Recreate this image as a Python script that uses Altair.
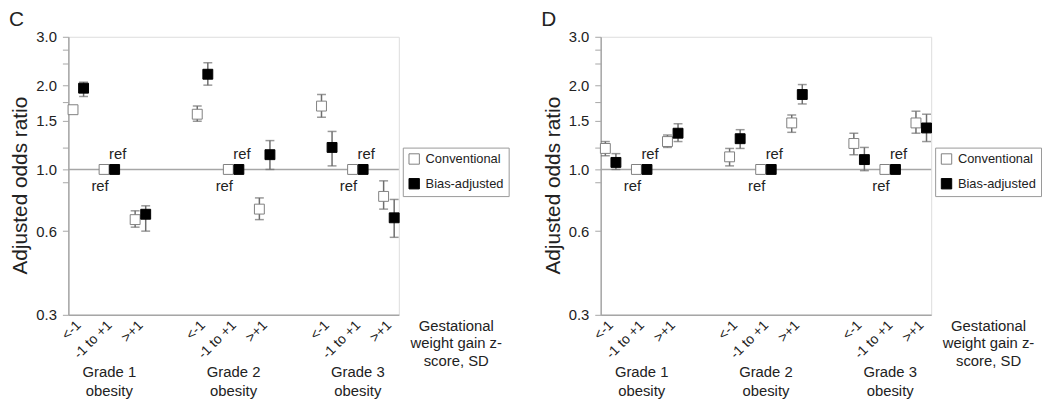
import altair as alt
import pandas as pd

# ---- data ----
positions = [1, 2, 3, 5, 6, 7, 9, 10, 11]
cat_labels = ["<-1", "-1 to +1", ">+1"] * 3
group_pos = [2, 6, 10]
group_labels = ["Grade 1\nobesity", "Grade 2\nobesity", "Grade 3\nobesity"]
series_names = ["Conventional", "Bias-adjusted"]

# Panel C
c_conv = [1.64, 1.0, 0.66, 1.58, 1.0, 0.72, 1.69, 1.0, 0.80]
c_conv_lo = [1.60, None, 0.62, 1.49, None, 0.66, 1.54, None, 0.72]
c_conv_hi = [1.69, None, 0.71, 1.69, None, 0.79, 1.86, None, 0.91]
c_bias = [1.96, 1.0, 0.69, 2.20, 1.0, 1.13, 1.20, 1.0, 0.67]
c_bias_lo = [1.83, None, 0.60, 2.01, None, 1.00, 1.03, None, 0.57]
c_bias_hi = [2.06, None, 0.74, 2.42, None, 1.27, 1.37, None, 0.78]

# Panel D
d_conv = [1.19, 1.0, 1.26, 1.11, 1.0, 1.47, 1.24, 1.0, 1.47]
d_conv_lo = [1.12, None, 1.20, 1.03, None, 1.36, 1.13, None, 1.35]
d_conv_hi = [1.26, None, 1.33, 1.19, None, 1.57, 1.35, None, 1.62]
d_bias = [1.06, 1.0, 1.35, 1.29, 1.0, 1.86, 1.085, 1.0, 1.41]
d_bias_lo = [1.00, None, 1.26, 1.19, None, 1.72, 0.99, None, 1.26]
d_bias_hi = [1.14, None, 1.46, 1.39, None, 2.02, 1.20, None, 1.58]

ref_positions = [2, 6, 10]

y_ticks = [0.3, 0.6, 0.9, 1.0, 1.2, 1.5, 1.75, 2.0, 2.4, 2.7, 3.0]
y_labeled = [0.3, 0.6, 1.0, 1.5, 2.0, 3.0]

FONT = "Liberation Sans"
TXT = "#222222"
GRAY = "#a6a6a6"
BAR = "#6e6e6e"
OFF = 0.17

W, H = 334, 281
XDOM = [0.68, 11.32]


def panel(letter, conv, conv_lo, conv_hi, bias, bias_lo, bias_hi):
    rows = []
    for s, vals, los, his, off in [
        (series_names[0], conv, conv_lo, conv_hi, -OFF),
        (series_names[1], bias, bias_lo, bias_hi, OFF),
    ]:
        for p, v, lo, hi in zip(positions, vals, los, his):
            rows.append({"x": p + off, "series": s, "v": v, "lo": lo, "hi": hi})
    df = pd.DataFrame(rows)
    df_err = df.dropna(subset=["lo"])

    xs = alt.Scale(domain=XDOM, nice=False, zero=False)
    ys = alt.Scale(type="log", domain=[0.3, 3.0], nice=False)

    label_arr = [""] * 12
    for p, l in zip(positions, cat_labels):
        label_arr[p] = l
    arr_expr = "[" + ",".join("'" + l + "'" for l in label_arr) + "]"
    lab_expr = "indexof([" + ",".join(str(v) for v in y_labeled) + "], datum.value) >= 0 ? format(datum.value, '.1f') : ''"

    xaxis = alt.Axis(
        values=positions, labelExpr=arr_expr + "[datum.value]", title=None,
        ticks=False, grid=False, labelAngle=315, labelAlign="right",
        labelBaseline="middle", labelPadding=8, labelFontSize=14,
        labelOverlap=False, labelFlush=False, labelBound=False,
        labelFont=FONT, labelColor=TXT, domainColor=GRAY, domainWidth=1.5,
    )
    yaxis = alt.Axis(
        values=y_ticks, labelExpr=lab_expr, title="Adjusted odds ratio",
        grid=False, tickSize=6, tickColor=GRAY, domainColor=GRAY, domainWidth=1.5,
        labelFontSize=15, labelFont=FONT, labelColor=TXT, labelPadding=6,
        labelOverlap=False, labelFlush=False,
        titleFontSize=21, titleFont=FONT, titleColor=TXT, titleFontWeight="normal",
        titlePadding=5, titleY=150,
    )

    base = alt.Chart(df)

    refline = alt.Chart(pd.DataFrame({"v": [1.0]})).mark_rule(
        color=GRAY, strokeWidth=1.5
    ).encode(y=alt.Y("v:Q", scale=ys, axis=yaxis))

    err = alt.Chart(df_err).mark_rule(color=BAR, strokeWidth=1.5).encode(
        x=alt.X("x:Q", scale=xs, axis=xaxis), y=alt.Y("lo:Q", scale=ys), y2="hi:Q"
    )
    cap_lo = alt.Chart(df_err).mark_tick(
        color=BAR, orient="horizontal", size=9, thickness=1.5
    ).encode(x=alt.X("x:Q", scale=xs), y=alt.Y("lo:Q", scale=ys))
    cap_hi = alt.Chart(df_err).mark_tick(
        color=BAR, orient="horizontal", size=9, thickness=1.5
    ).encode(x=alt.X("x:Q", scale=xs), y=alt.Y("hi:Q", scale=ys))

    legend = alt.Legend(
        orient="none", legendX=338, legendY=112, title=None,
        symbolType="square", symbolSize=110, symbolStrokeWidth=1,
        labelFontSize=13, labelFont=FONT, labelColor=TXT, labelOffset=5,
        strokeColor="#999999", fillColor="white", padding=5, rowPadding=10,
    )
    pts = base.mark_point(shape="square", size=100, filled=True, opacity=1, strokeWidth=1).encode(
        x=alt.X("x:Q", scale=xs),
        y=alt.Y("v:Q", scale=ys),
        fill=alt.Fill("series:N", scale=alt.Scale(domain=series_names, range=["white", "black"]), legend=legend),
        stroke=alt.Stroke("series:N", scale=alt.Scale(domain=series_names, range=["#7f7f7f", "black"]), legend=legend),
    )

    ref_df = pd.DataFrame({
        "x": [p + OFF + 0.1 for p in ref_positions] + [p - OFF - 0.13 for p in ref_positions],
        "v": [1.0] * 6,
        "dy": [-16] * 3 + [17] * 3,
    })
    ref_up = alt.Chart(ref_df[ref_df.dy < 0]).mark_text(
        text="ref", font=FONT, fontSize=15, color=TXT, dy=-16
    ).encode(x=alt.X("x:Q", scale=xs), y=alt.Y("v:Q", scale=ys))
    ref_dn = alt.Chart(ref_df[ref_df.dy > 0]).mark_text(
        text="ref", font=FONT, fontSize=15, color=TXT, dy=17
    ).encode(x=alt.X("x:Q", scale=xs), y=alt.Y("v:Q", scale=ys))

    grp = alt.Chart(pd.DataFrame({"x": group_pos, "t": group_labels})).mark_text(
        font=FONT, fontSize=15, color=TXT, lineBreak="\n", lineHeight=19,
        baseline="middle", align="center"
    ).encode(x=alt.X("x:Q", scale=xs), y=alt.value(H + 58), text="t:N")

    gw = alt.Chart(pd.DataFrame({"t": ["Gestational\nweight gain z-\nscore, SD"]})).mark_text(
        font=FONT, fontSize=15, color=TXT, lineBreak="\n", lineHeight=18,
        baseline="middle", align="center"
    ).encode(x=alt.value(W + 58), y=alt.value(H + 11), text="t:N")

    let = alt.Chart(pd.DataFrame({"t": [letter]})).mark_text(
        font=FONT, fontSize=21, color=TXT, align="left", baseline="middle"
    ).encode(x=alt.value(-60), y=alt.value(-17), text="t:N")

    return alt.layer(refline, err, cap_lo, cap_hi, pts, ref_up, ref_dn, grp, gw, let).properties(
        width=W, height=H
    )


pc = panel("C", c_conv, c_conv_lo, c_conv_hi, c_bias, c_bias_lo, c_bias_hi)
pd_ = panel("D", d_conv, d_conv_lo, d_conv_hi, d_bias, d_bias_lo, d_bias_hi)

chart = alt.hconcat(pc, pd_, spacing=204, bounds="flush").resolve_legend(
    fill="independent", stroke="independent"
).resolve_scale(fill="independent", stroke="independent").properties(
    padding={"left": 0, "top": -2, "right": 0, "bottom": 0}
).configure_view(strokeWidth=0).configure(background="white")

chart.save("out.html", embed_options={"renderer": "svg", "actions": False})
